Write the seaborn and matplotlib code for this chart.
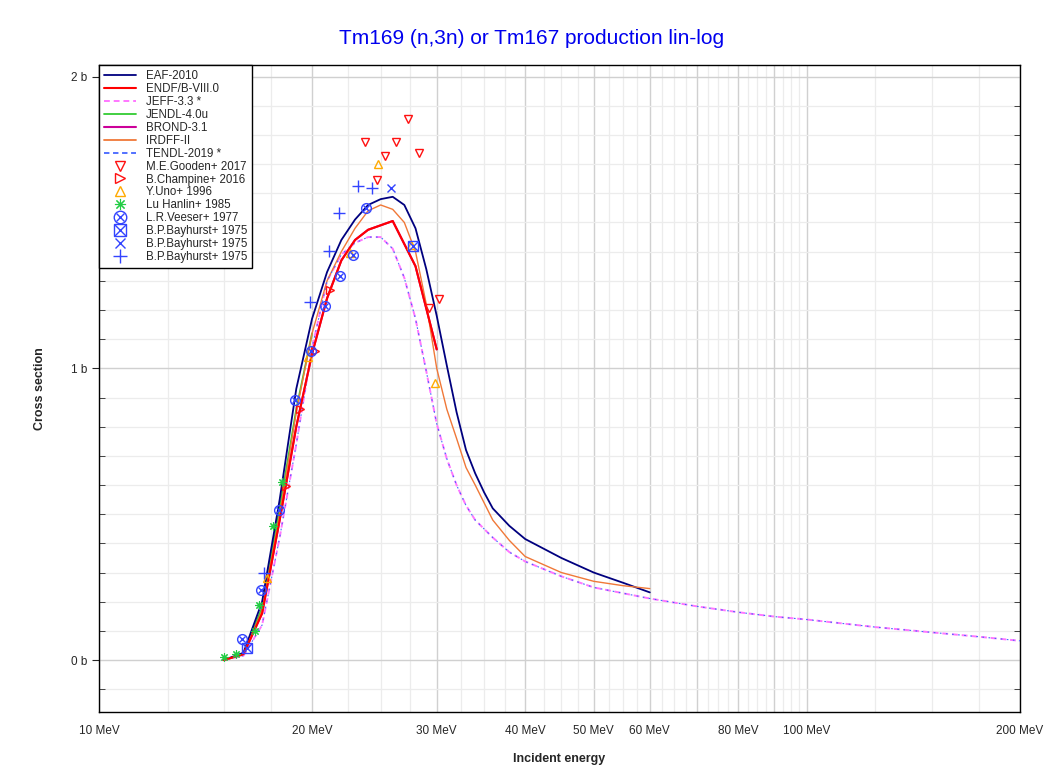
import numpy as np
import pandas as pd
import matplotlib
matplotlib.use("Agg")
import matplotlib.pyplot as plt
import seaborn as sns
from matplotlib.lines import Line2D
from matplotlib.legend_handler import HandlerTuple
from matplotlib.ticker import FixedLocator, FixedFormatter, NullFormatter

# -------------------------
# Evaluated data (MeV, barn)
# -------------------------
eaf_e = [15, 16, 17, 18, 19, 20, 21, 22, 23, 24, 25, 26, 27, 28, 29, 30, 31, 32, 33, 34, 35, 36, 38, 40, 45, 50, 55, 60]
eaf_s = [0.0, 0.025, 0.2, 0.55, 0.93, 1.17, 1.33, 1.44, 1.51, 1.56, 1.58, 1.588, 1.56, 1.48, 1.34, 1.18, 1.01, 0.85,
         0.72, 0.64, 0.575, 0.52, 0.46, 0.415, 0.35, 0.30, 0.265, 0.232]

endf_e = [15, 16, 17, 18, 19, 20, 21, 22, 23, 24, 26, 28, 30]
endf_s = [0.0, 0.02, 0.16, 0.48, 0.80, 1.05, 1.24, 1.37, 1.44, 1.475, 1.505, 1.35, 1.065]

jeff_e = [15, 16, 17, 18, 19, 20, 21, 22, 23, 24, 25, 26, 27, 28, 29, 30, 31, 32, 33, 34, 36, 38, 40, 45, 50,
          60, 70, 80, 90, 100, 125, 150, 175, 200]
jeff_s = [0.0, 0.015, 0.12, 0.42, 0.74, 1.07, 1.30, 1.39, 1.43, 1.45, 1.45, 1.41, 1.31, 1.17, 0.99, 0.81, 0.69,
          0.60, 0.53, 0.48, 0.42, 0.37, 0.338, 0.287, 0.249, 0.211, 0.184, 0.164, 0.149, 0.139, 0.113, 0.095,
          0.080, 0.066]

jendl_e = [15, 16, 17, 18, 19, 20]
jendl_s = [0.0, 0.02, 0.18, 0.52, 0.86, 1.12]

brond_e = [15, 16, 17, 18, 19, 20, 21, 22, 23, 24, 26, 28, 30]
brond_s = [0.0, 0.02, 0.16, 0.48, 0.80, 1.05, 1.24, 1.37, 1.44, 1.475, 1.505, 1.35, 1.065]

irdff_e = [15, 16, 17, 18, 19, 20, 21, 22, 23, 24, 25, 26, 27, 28, 29, 30, 31, 32, 33, 34, 36, 38, 40, 45,
           50, 55, 60]
irdff_s = [0.0, 0.02, 0.17, 0.50, 0.85, 1.12, 1.30, 1.40, 1.48, 1.54, 1.56, 1.545, 1.50, 1.40, 1.22, 1.00,
           0.86, 0.76, 0.66, 0.60, 0.48, 0.41, 0.355, 0.30, 0.27, 0.255, 0.245]

tendl_e = [15, 16, 17, 18, 19, 20, 21, 22, 23, 24, 25, 26, 27, 28, 29, 30, 31, 32, 33, 34, 36, 38, 40, 45, 50,
           60, 70, 80, 90, 100, 125, 150, 175, 200]
tendl_s = [0.0, 0.015, 0.12, 0.42, 0.74, 1.07, 1.30, 1.39, 1.43, 1.45, 1.45, 1.41, 1.31, 1.17, 0.99, 0.81, 0.69,
           0.60, 0.53, 0.48, 0.42, 0.37, 0.338, 0.287, 0.249, 0.211, 0.184, 0.164, 0.149, 0.139, 0.113, 0.095,
           0.080, 0.066]

# -------------------------
# Experimental data
# -------------------------
gooden_e = [23.75, 24.73, 25.33, 26.3, 27.32, 28.28, 29.23, 30.26]
gooden_s = [1.775, 1.647, 1.727, 1.775, 1.856, 1.738, 1.206, 1.237]

champine_e = [18.35, 19.25, 20.2, 21.2]
champine_s = [0.595, 0.86, 1.06, 1.269]

uno_e = [17.3, 19.76, 22.6, 24.79, 27.6, 29.84]
uno_s = [0.28, 1.04, 1.395, 1.70, 1.424, 0.949]

lu_e = [15.0, 15.6, 16.6, 16.85, 17.6, 18.15]
lu_s = [0.01, 0.02, 0.10, 0.19, 0.46, 0.61]

veeser_e = [15.94, 16.92, 17.95, 18.9, 19.94, 20.87, 21.92, 22.87, 23.86]
veeser_s = [0.071, 0.24, 0.515, 0.892, 1.061, 1.214, 1.317, 1.389, 1.55]

bay_sq_e = [16.17, 27.77]
bay_sq_s = [0.04, 1.421]

bay_x_e = [25.83]
bay_x_s = [1.618]

bay_plus_e = [17.1, 19.84, 21.1, 21.84, 23.19, 24.27]
bay_plus_s = [0.30, 1.229, 1.403, 1.532, 1.624, 1.618]

major_ticks = [10, 20, 30, 40, 50, 60, 70, 80, 90, 100, 200]
major_labels = ["10 MeV", "20 MeV", "30 MeV", "40 MeV", "50 MeV", "60 MeV", "", "80 MeV", "", "100 MeV", "200 MeV"]

# -------------------------
# Style
# -------------------------
sns.set_style("white")
plt.rcParams['font.family'] = ['Liberation Sans', 'DejaVu Sans']

BLUE = "#3344ff"
RED = "#ff1010"
ORANGE = "#ffaa00"
GREEN = "#22cc44"

fig = plt.figure(figsize=(10.63, 7.74), dpi=100)
ax = fig.add_axes([0.0931, 0.0801, 0.8664, 0.836])

curves = [
    ("EAF-2010", eaf_e, eaf_s, "#00007f", "-", 1.3, 3),
    ("ENDF/B-VIII.0", endf_e, endf_s, "#ff0000", "-", 1.5, 4),
    ("JEFF-3.3 *", jeff_e, jeff_s, "#ff77ff", (0, (3, 2)), 1.4, 3),
    ("JENDL-4.0u", jendl_e, jendl_s, "#33cc33", "-", 1.3, 2),
    ("BROND-3.1", brond_e, brond_s, "#cc0099", "-", 1.5, 2),
    ("IRDFF-II", irdff_e, irdff_s, "#f07838", "-", 1.0, 3),
    ("TENDL-2019 *", tendl_e, tendl_s, "#4466ff", (0, (1.5, 4)), 0.8, 3),
]
for name, e, s, c, ls, lw, z in curves:
    sns.lineplot(x=e, y=s, ax=ax, color=c, linestyle=ls, linewidth=lw, estimator=None, sort=False,
                 legend=False, zorder=z)

def points(e, s, marker, color, size=6, mew=1.0):
    sns.lineplot(x=e, y=s, ax=ax, estimator=None, sort=False, legend=False, linestyle="none",
                 marker=marker, markersize=size, color=color, markeredgecolor=color,
                 markerfacecolor="none", markeredgewidth=mew, zorder=5)

points(gooden_e, gooden_s, "v", RED)
points(champine_e, champine_s, ">", RED)
points(uno_e, uno_s, "^", ORANGE)
points(lu_e, lu_s, (8, 2, 0), GREEN, size=6, mew=0.8)
points(veeser_e, veeser_s, "o", BLUE, size=7)
points(veeser_e, veeser_s, "x", BLUE, size=4.5)
points(bay_sq_e, bay_sq_s, "s", BLUE, size=7)
points(bay_sq_e, bay_sq_s, "x", BLUE, size=6.5)
points(bay_x_e, bay_x_s, "x", BLUE, size=6)
points(bay_plus_e, bay_plus_s, "+", BLUE, size=8)

# -------------------------
# Axes
# -------------------------
ax.set_xscale("log")
ax.set_xlim(10, 200)
ax.set_ylim(-0.178, 2.04)

minor_x = [v for v in np.arange(12.5, 100, 2.5) if v % 10 != 0] + [125, 150, 175]
ax.xaxis.set_major_locator(FixedLocator(major_ticks))
ax.xaxis.set_major_formatter(FixedFormatter(major_labels))
ax.xaxis.set_minor_locator(FixedLocator(minor_x))
ax.xaxis.set_minor_formatter(NullFormatter())

ax.set_yticks([0, 1, 2])
ax.set_yticklabels(["0 b", "1 b", "2 b"])
ax.yaxis.set_minor_locator(FixedLocator([v / 10 for v in range(-1, 21) if v % 10 != 0]))

ax.grid(which="major", color="#d0d0d0", linewidth=1.0)
ax.grid(which="minor", color="#ececec", linewidth=0.9)
ax.set_axisbelow(True)

ax.tick_params(axis="x", which="both", direction="in", length=4, labelsize=8.5, pad=9, top=False)
ax.tick_params(axis="y", which="major", direction="out", length=5, labelsize=8.5, left=True)
ax.tick_params(axis="y", which="minor", direction="in", length=4, left=True, right=True)

for sp in ax.spines.values():
    sp.set_color("black")
    sp.set_linewidth(1.0)

ax.set_xlabel("Incident energy", fontsize=9, fontweight="bold", labelpad=12)
ax.set_ylabel("Cross section", fontsize=9, fontweight="bold", labelpad=18)
fig.suptitle("Tm169 (n,3n) or Tm167 production lin-log", color="#0000ee", fontsize=15, y=0.962)

# -------------------------
# Legend
# -------------------------
handles = [Line2D([], [], color=c, linestyle=ls if ls == "-" else (0, (3, 2)), linewidth=max(lw, 1.3))
           for _, _, _, c, ls, lw, _ in curves]
labels = [name for name, *_ in curves]

def mk(marker, color, size=6, mew=1.0):
    return Line2D([], [], linestyle="none", marker=marker, markersize=size, color=color,
                  markerfacecolor="none", markeredgecolor=color, markeredgewidth=mew)

handles += [
    mk("v", RED, 7), mk(">", RED, 7), mk("^", ORANGE, 7), mk((8, 2, 0), GREEN, 8, 0.8),
    (mk("o", BLUE, 9), mk("x", BLUE, 6)),
    (mk("s", BLUE, 9), mk("x", BLUE, 8)),
    mk("x", BLUE, 7), mk("+", BLUE, 10),
]
labels += ["M.E.Gooden+ 2017", "B.Champine+ 2016", "Y.Uno+ 1996", "Lu Hanlin+ 1985", "L.R.Veeser+ 1977",
           "B.P.Bayhurst+ 1975", "B.P.Bayhurst+ 1975", "B.P.Bayhurst+ 1975"]

leg = ax.legend(handles, labels, loc="upper left", bbox_to_anchor=(0, 1), borderaxespad=0,
                fontsize=8.3, frameon=True, fancybox=False, edgecolor="black", framealpha=1,
                handlelength=2.8, labelspacing=0.08, handletextpad=0.8, borderpad=0.45,
                handler_map={tuple: HandlerTuple(ndivide=1, pad=0)})
leg.get_frame().set_linewidth(1.0)
leg.set_zorder(10)

fig.savefig("out.png", dpi=100)
